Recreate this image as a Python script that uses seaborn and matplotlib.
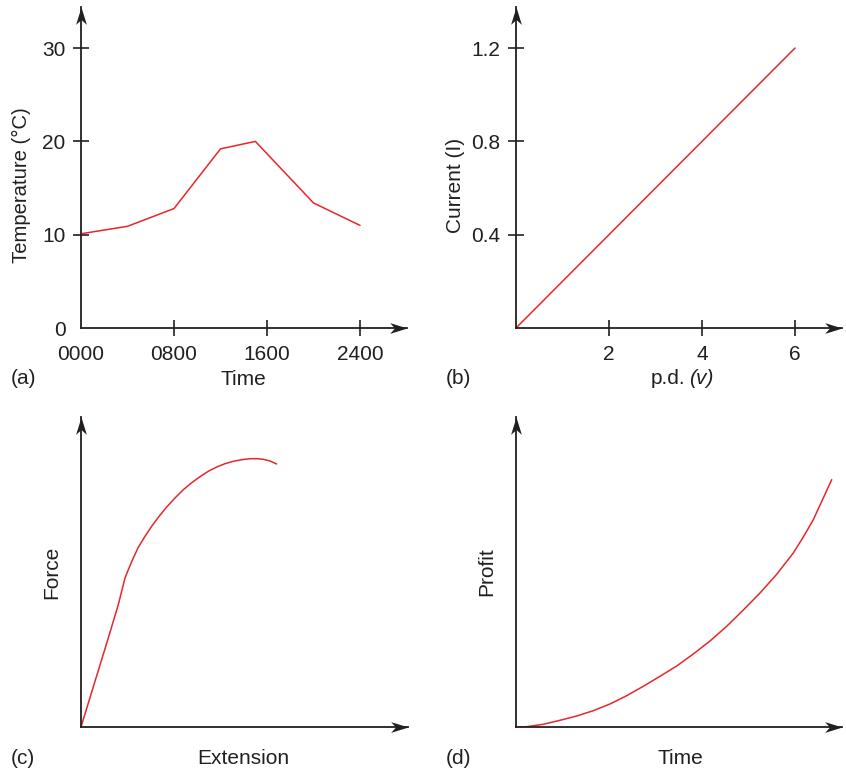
import matplotlib
matplotlib.use("Agg")
import matplotlib.pyplot as plt
from matplotlib.path import Path
import seaborn as sns

# ---------------- data ----------------
temp_time = [0, 400, 800, 1200, 1500, 2000, 2400]
temp_values = [10.1, 10.9, 12.8, 19.2, 20.0, 13.4, 11.0]
temp_xticks = [0, 800, 1600, 2400]
temp_xticklabels = ["0000", "0800", "1600", "2400"]
temp_yticks = [0, 10, 20, 30]

pd_volts = [0, 6]
current_amps = [0, 1.2]
pd_xticks = [2, 4, 6]
current_yticks = [0.4, 0.8, 1.2]

extension = [0, 14, 27.3, 37.3, 44, 47.3, 52.3, 57.3, 64, 70.7, 77.3, 85.7, 94, 102.3,
             110.7, 119, 127.3, 135.7, 144, 152.3, 160.7, 169, 175.7, 182.3, 189, 195.7]
force = [0, 45.7, 89, 122.3, 149, 157.3, 169, 179.7, 190.7, 200.7, 209.7, 220, 229, 237.3,
         244.3, 250.3, 255.7, 260, 263.3, 265.7, 267.3, 268.3, 268.3, 267.7, 266, 263]

profit_time = [0, 10.7, 27.3, 44, 60.7, 77.3, 94, 110.7, 127.3, 144, 160.7, 177.3, 194,
               210.7, 227.3, 244, 260.7, 277.3, 287.3, 297.3, 307.3, 315.7]
profit = [0, 0.3, 2.7, 6.7, 11, 16.3, 23, 31.3, 40.7, 50.7, 61, 73, 86,
          100.7, 117, 134, 152.7, 174, 190, 207.3, 229, 247.3]

# ---------------- style ----------------
sns.set_theme(style="white")
plt.rcParams["font.family"] = ["Liberation Sans", "DejaVu Sans"]

INK = "#231f20"
RED = "#e8262a"
FS = 15
W, H = 846, 771

fig = plt.figure(figsize=(W / 100, H / 100), dpi=100)

# stealth arrowhead markers (tip at the origin)
_v = [(0, 0), (-1, 0.31), (-0.72, 0), (-1, -0.31), (0, 0)]
_c = [Path.MOVETO, Path.LINETO, Path.LINETO, Path.LINETO, Path.CLOSEPOLY]
ARROW_R = Path(_v, _c)
ARROW_U = Path([(-y, x) for x, y in _v], _c)


def add_ax(l, r, b, t):
    ax = fig.add_axes([l / W, 1 - b / H, (r - l) / W, (b - t) / H])
    ax.set_facecolor("none")
    for k, s in ax.spines.items():
        if k in ("left", "bottom"):
            s.set_visible(True)
            s.set_color(INK)
            s.set_linewidth(1.3)
        else:
            s.set_visible(False)
    ax.plot([1], [0], marker=ARROW_R, ms=25, color=INK, mec=INK, mew=0,
            transform=ax.transAxes, clip_on=False, ls="none")
    ax.plot([0], [1], marker=ARROW_U, ms=25, color=INK, mec=INK, mew=0,
            transform=ax.transAxes, clip_on=False, ls="none")
    ax.tick_params(direction="inout", length=12, width=1.2, color=INK,
                   labelsize=FS, labelcolor=INK, bottom=True, left=True)
    ax.tick_params(axis="x", pad=6)
    ax.tick_params(axis="y", pad=5)
    ax.grid(False)
    return ax, (l, r, b, t)


def place_labels(ax, box, xl, yl):
    l, r, b, t = box
    if xl is not None:
        ax.xaxis.set_label_coords((xl[0] - l) / (r - l), (b - xl[1]) / (b - t))
        ax.xaxis.label.set_va("center")
    ax.yaxis.set_label_coords((yl[0] - l) / (r - l), (b - yl[1]) / (b - t))
    ax.yaxis.label.set_va("center")


def ftext(x, y, s, ha="center", **kw):
    fig.text(x / W, 1 - y / H, s, fontsize=FS, color=INK, ha=ha, va="center", **kw)


# ---------------- (a) ----------------
ax, box = add_ax(81, 407, 328, 7)
sns.lineplot(x=temp_time, y=temp_values, ax=ax, color=RED, lw=1.1, sort=False)
ax.set_xlim(0, (407 - 81) / 93 * 800)
ax.set_ylim(0, (328 - 7) / 9.33)
ax.set_xticks(temp_xticks)
ax.set_xticklabels(temp_xticklabels)
ax.set_yticks(temp_yticks)
ax.xaxis.get_major_ticks()[0].tick1line.set_visible(False)
ax.yaxis.get_major_ticks()[0].tick1line.set_visible(False)
ax.set_xlabel("Time", fontsize=FS, color=INK)
ax.set_ylabel("Temperature (°C)", fontsize=14.6, color=INK)
place_labels(ax, box, (243, 379), (21, 185))
ftext(23, 379, "(a)")

# ---------------- (b) ----------------
ax, box = add_ax(516, 842, 328, 7)
sns.lineplot(x=pd_volts, y=current_amps, ax=ax, color=RED, lw=1.1, sort=False)
ax.set_xlim(0, (842 - 516) / 46.5)
ax.set_ylim(0, (328 - 7) / 233.3)
ax.set_xticks(pd_xticks)
ax.set_xticklabels([str(v) for v in pd_xticks])
ax.set_yticks(current_yticks)
ax.set_yticklabels([f"{v:.1f}" for v in current_yticks])
ax.set_ylabel("Current (I)", fontsize=FS, color=INK)
place_labels(ax, box, None, (455, 185))
ftext(685, 379, "p.d.", ha="right")
ftext(689, 379, "(v)", ha="left", style="italic")
ftext(458, 379, "(b)")

# ---------------- (c) ----------------
ax, box = add_ax(81, 408, 727, 417)
sns.lineplot(x=extension, y=force, ax=ax, color=RED, lw=1.1, sort=False)
ax.set_xlim(0, 327)
ax.set_ylim(0, 310)
ax.set_xticks([])
ax.set_yticks([])
ax.set_xlabel("Extension", fontsize=FS, color=INK)
ax.set_ylabel("Force", fontsize=FS, color=INK)
place_labels(ax, box, (243, 758), (52, 572))
ftext(23, 758, "(c)")

# ---------------- (d) ----------------
ax, box = add_ax(516, 842, 727, 417)
sns.lineplot(x=profit_time, y=profit, ax=ax, color=RED, lw=1.1, sort=False)
ax.set_xlim(0, 326)
ax.set_ylim(0, 310)
ax.set_xticks([])
ax.set_yticks([])
ax.set_xlabel("Time", fontsize=FS, color=INK)
ax.set_ylabel("Profit", fontsize=FS, color=INK)
place_labels(ax, box, (680, 758), (487, 572))
ftext(458, 758, "(d)")

fig.savefig("out.png", dpi=100, facecolor="white")
